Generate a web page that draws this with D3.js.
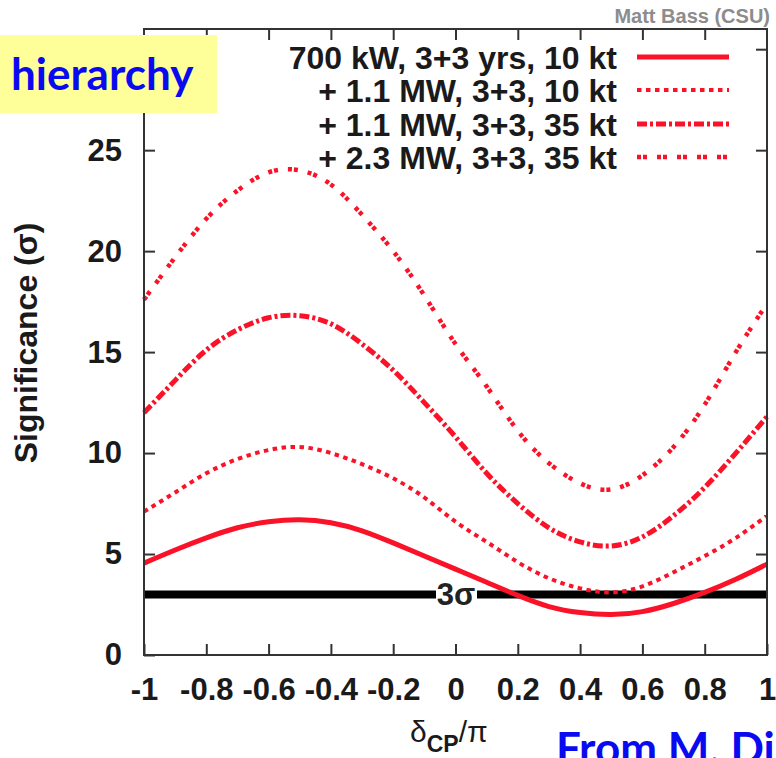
<!DOCTYPE html>
<html lang="en">
<head>
  <meta charset="UTF-8" />
  <title>Significance vs delta CP</title>
  <script src="https://d3js.org/d3.v7.min.js"></script>
  <style>
    body {
      margin: 0;
      background: #fff;
    }
    svg {
      display: block;
      font-family: "Liberation Sans", Arial, sans-serif;
    }
  </style>
</head>
<body>
  <div id="chart"></div>
  <script>
    // delta_CP / pi sample points
    const deltaCP = [-1, -0.9, -0.8, -0.7, -0.6, -0.5, -0.4, -0.3, -0.2, -0.1, 0,
                     0.1, 0.2, 0.3, 0.4, 0.5, 0.6, 0.7, 0.8, 0.9, 1];

    // significance (sigma)
    const sig700kW10kt = [4.55, 5.2, 5.8, 6.3, 6.6, 6.7, 6.55, 6.15, 5.55, 4.9, 4.25,
                          3.6, 2.95, 2.4, 2.1, 2.0, 2.15, 2.55, 3.1, 3.75, 4.5];
    const sig11MW10kt = [7.1, 8.05, 9.0, 9.7, 10.15, 10.3, 10.0, 9.45, 8.75, 7.8, 6.6,
                         5.6, 4.6, 3.8, 3.3, 3.1, 3.4, 4.1, 4.9, 5.8, 6.9];
    const sig11MW35kt = [12.0, 13.6, 15.1, 16.1, 16.7, 16.8, 16.4, 15.4, 14.1, 12.5, 10.8,
                         9.0, 7.5, 6.3, 5.6, 5.4, 5.85, 6.9, 8.3, 10.0, 11.8];
    const sig23MW35kt = [17.6, 19.7, 21.6, 23.0, 23.9, 24.0, 23.3, 21.8, 20.0, 17.8, 15.4,
                         13.3, 11.1, 9.5, 8.5, 8.2, 8.9, 10.3, 12.4, 15.0, 17.4];

    const seriesNames = ["700 kW, 3+3 yrs, 10 kt", "+ 1.1 MW, 3+3, 10 kt",
                         "+ 1.1 MW, 3+3, 35 kt", "+ 2.3 MW, 3+3, 35 kt"];
    const xTicks = [-1, -0.8, -0.6, -0.4, -0.2, 0, 0.2, 0.4, 0.6, 0.8, 1];
    const yTicks = [0, 5, 10, 15, 20, 25];
    const yTicksRight = [5, 10, 15, 20, 25, 30];
    const sigmaLevel = 3;

    const W = 776, H = 758;
    const red = "#fa1228";
    const styles = [
      { width: 5, dash: null },
      { width: 4, dash: "4.5,4.5" },
      { width: 5, dash: "10,3,3,3" },
      { width: 4.5, dash: "4,2,4,10" }
    ];
    const allSeries = [sig700kW10kt, sig11MW10kt, sig11MW35kt, sig23MW35kt];

    const svg = d3.select("#chart").append("svg")
      .attr("width", W)
      .attr("height", H);

    const x = d3.scaleLinear().domain([-1, 1]).range([144, 767]);
    const y = d3.scaleLinear().domain([0, 31]).range([655, 29]);

    // 3 sigma line
    svg.append("line")
      .attr("x1", x(-1)).attr("x2", x(1))
      .attr("y1", y(sigmaLevel)).attr("y2", y(sigmaLevel))
      .attr("stroke", "#000")
      .attr("stroke-width", 8);

    svg.append("rect")
      .attr("x", 436).attr("y", y(sigmaLevel) - 5)
      .attr("width", 41).attr("height", 10)
      .attr("fill", "#fff");

    svg.append("text")
      .attr("x", 456).attr("y", y(sigmaLevel) + 11)
      .attr("text-anchor", "middle")
      .attr("font-size", 31)
      .attr("font-weight", "bold")
      .attr("fill", "#222")
      .text("3σ");

    // curves
    const line = d3.line()
      .x((d, i) => x(deltaCP[i]))
      .y(d => y(d))
      .curve(d3.curveNatural);

    allSeries.forEach((s, i) => {
      svg.append("path")
        .attr("d", line(s))
        .attr("fill", "none")
        .attr("stroke", red)
        .attr("stroke-width", styles[i].width)
        .attr("stroke-dasharray", styles[i].dash);
    });

    // axes, ticks pointing inwards
    const axisFont = g => g.selectAll("text")
      .attr("font-size", 31)
      .attr("font-weight", "bold")
      .attr("fill", "#1a1a1a")
      .attr("font-family", "'Liberation Sans', Arial, sans-serif");

    svg.append("g")
      .attr("transform", `translate(${x(-1)},0)`)
      .call(d3.axisLeft(y).tickValues(yTicks).tickSize(-11).tickPadding(22))
      .call(g => g.select(".domain").remove())
      .call(g => g.selectAll("line").attr("stroke", "#333").attr("stroke-width", 2))
      .call(axisFont);

    svg.append("g")
      .attr("transform", `translate(0,${y(0)})`)
      .call(d3.axisBottom(x).tickValues(xTicks).tickSize(-11).tickPadding(23).tickFormat(d => String(d)))
      .call(g => g.select(".domain").remove())
      .call(g => g.selectAll("line").attr("stroke", "#333").attr("stroke-width", 2))
      .call(axisFont);

    svg.append("g")
      .attr("transform", `translate(0,${y(31)})`)
      .call(d3.axisTop(x).tickValues(xTicks.slice(1, -1)).tickSize(-11).tickFormat(""))
      .call(g => g.select(".domain").remove())
      .call(g => g.selectAll("line").attr("stroke", "#333").attr("stroke-width", 2));

    svg.append("g")
      .attr("transform", `translate(${x(1)},0)`)
      .call(d3.axisRight(y).tickValues(yTicksRight).tickSize(-11).tickFormat(""))
      .call(g => g.select(".domain").remove())
      .call(g => g.selectAll("line").attr("stroke", "#333").attr("stroke-width", 2));

    svg.append("rect")
      .attr("x", x(-1)).attr("y", y(31))
      .attr("width", x(1) - x(-1)).attr("height", y(0) - y(31))
      .attr("fill", "none")
      .attr("stroke", "#333")
      .attr("stroke-width", 2);

    // legend
    const legendY = [57, 90, 124, 157];
    seriesNames.forEach((name, i) => {
      svg.append("text")
        .attr("x", 617).attr("y", legendY[i] + 12)
        .attr("text-anchor", "end")
        .attr("font-size", 32)
        .attr("font-weight", "bold")
        .attr("fill", "#1a1a1a")
        .text(name);
      svg.append("line")
        .attr("x1", 637).attr("x2", 729)
        .attr("y1", legendY[i]).attr("y2", legendY[i])
        .attr("stroke", red)
        .attr("stroke-width", styles[i].width)
        .attr("stroke-dasharray", styles[i].dash);
    });

    // axis titles
    svg.append("text")
      .attr("transform", "translate(37,343) rotate(-90)")
      .attr("text-anchor", "middle")
      .attr("font-size", 32)
      .attr("font-weight", "bold")
      .attr("fill", "#1a1a1a")
      .text("Significance (σ)");

    const xt = svg.append("text")
      .attr("x", 410).attr("y", 742)
      .attr("fill", "#1a1a1a");
    xt.append("tspan").attr("font-size", 30).text("δ");
    xt.append("tspan").attr("font-size", 23).attr("font-weight", "bold").attr("dy", 10).text("CP");
    xt.append("tspan").attr("font-size", 30).attr("dy", -10).text("/π");

    svg.append("text")
      .attr("x", 770).attr("y", 23)
      .attr("text-anchor", "end")
      .attr("font-size", 20)
      .attr("font-weight", "bold")
      .attr("fill", "#8c8c8c")
      .text("Matt Bass (CSU)");

    // slide annotations
    svg.append("rect")
      .attr("x", 0).attr("y", 35)
      .attr("width", 217).attr("height", 78)
      .attr("fill", "#ffff99");

    svg.append("text")
      .attr("x", 11).attr("y", 90)
      .attr("font-family", "Lato, 'Open Sans', sans-serif")
      .attr("font-size", 44)
      .attr("font-weight", "bold")
      .attr("fill", "#0a0af0")
      .text("hierarchy");

    svg.append("text")
      .attr("x", 556).attr("y", 764)
      .attr("font-family", "Lato, 'Open Sans', sans-serif")
      .attr("font-size", 44)
      .attr("font-weight", "bold")
      .attr("fill", "#0a0af0")
      .text("From M. Di");
  </script>
</body>
</html>
